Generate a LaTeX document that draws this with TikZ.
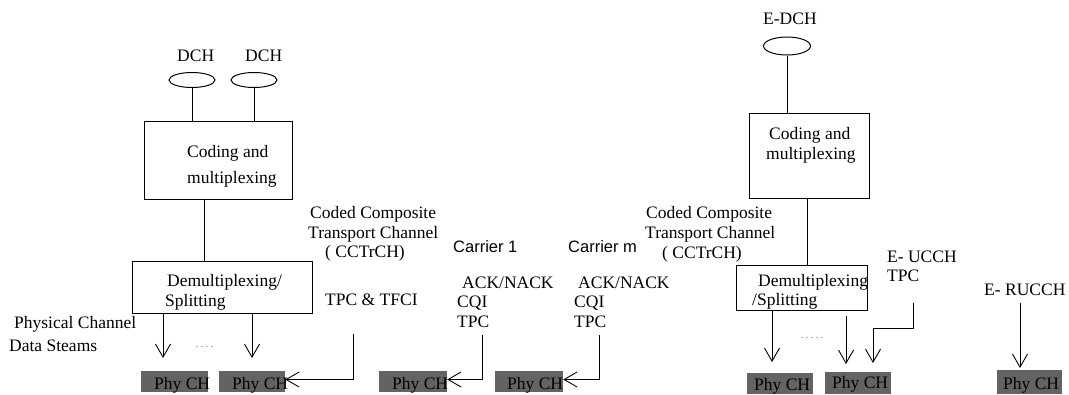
\documentclass[tikz,border=0pt]{standalone}
\usepackage{fontspec}
\setmainfont{Liberation Serif}
\newfontfamily\arialf{Liberation Sans}
\usetikzlibrary{arrows.meta,shapes.geometric}
\definecolor{phygray}{HTML}{636363}
\begin{document}
\begin{tikzpicture}[x=1pt,y=-1pt,
  txt/.style={anchor=base west, inner sep=0pt, font=\fontsize{17.5}{21}\selectfont},
  sans/.style={anchor=base west, inner sep=0pt, font=\arialf\fontsize{16.5}{20}\selectfont},
  box/.style={draw, line width=1pt, inner sep=0pt},
  chan/.style={draw, ellipse, line width=1pt, inner sep=0pt},
  phy/.style={fill=phygray, inner sep=0pt, minimum height=21pt},
  line/.style={line width=0.9pt},
  arr/.style={line width=0.9pt, -{Straight Barb[length=13pt,width=15pt]}},
  dots/.style={anchor=base west, inner sep=0pt, font=\fontsize{8}{9}\selectfont}
]
\useasboundingbox (0,0) rectangle (1069,394);

% ---------- left group ----------
\node[txt] (ldch1) at (177,61) {DCH};
\node[txt] (ldch2) at (245,61) {DCH};
\node[chan, minimum width=46pt, minimum height=15pt] (e1) at (192,80) {};
\node[chan, minimum width=46pt, minimum height=15pt] (e2) at (254,80) {};
\node[box, minimum width=148pt, minimum height=78pt] (cm1) at (218,160) {};
\node[txt] (cm1a) at (187,157) {Coding and};
\node[txt] (cm1b) at (187,183) {multiplexing};
\node[box, minimum width=180pt, minimum height=52pt] (dm1) at (222,287) {};
\node[txt] (dm1a) at (167,286) {Demultiplexing/};
\node[txt] (dm1b) at (165,306) {Splitting};
\node[txt] (pcd1) at (14,328) {Physical Channel};
\node[txt] (pcd2) at (9,351) {Data Steams};
\node[dots] (dl) at (196,347) {.\hspace{3pt}.\hspace{3pt}.\hspace{3pt}.};

\draw[line] (e1.south) -- (e1.south |- cm1.north);
\draw[line] (e2.south) -- (e2.south |- cm1.north);
\draw[line] ([xshift=-14pt]cm1.south) -- ([xshift=-14pt]cm1.south |- dm1.north);
\coordinate (t1) at (163,358);
\coordinate (t2) at (252,358);
\draw[arr] (dm1.south -| t1) -- (t1);
\draw[arr] (dm1.south -| t2) -- (t2);

\node[phy, minimum width=67pt] (p1) at (174.5,381.5) {};
\node[phy, minimum width=66pt] (p2) at (252,381.5) {};
\node[txt] (p1t) at (154,389) {Phy CH};
\node[txt] (p2t) at (232,389) {Phy CH};

% ---------- middle ----------
\node[txt] (cc1a) at (310,218) {Coded Composite};
\node[txt] (cc1b) at (308,238) {Transport Channel};
\node[txt] (cc1c) at (325,257) {( CCTrCH)};
\node[txt] (tfci) at (325,305) {TPC \& TFCI};
\coordinate (s1) at (353,334);
\draw[arr] (s1) |- ([yshift=2pt]p2.east);

\node[sans] (car1) at (453,252) {Carrier 1};
\node[sans] (carm) at (568,252) {Carrier m};
\node[txt] (ack1) at (462,288) {ACK/NACK};
\node[txt] (cqi1) at (457,307) {CQI};
\node[txt] (tpc1) at (457,327) {TPC};
\node[txt] (ack2) at (578,288) {ACK/NACK};
\node[txt] (cqi2) at (574,307) {CQI};
\node[txt] (tpc2) at (574,327) {TPC};

\node[phy, minimum width=68pt] (p3) at (413,381.5) {};
\node[phy, minimum width=68pt] (p4) at (529,381.5) {};
\node[txt] (p3t) at (392,389) {Phy CH};
\node[txt] (p4t) at (507,389) {Phy CH};
\coordinate (s2) at (482,335);
\coordinate (s3) at (599,335);
\draw[arr] (s2) |- ([yshift=2pt]p3.east);
\draw[arr] (s3) |- ([yshift=2pt]p4.east);

% ---------- right group ----------
\node[txt] (edch) at (763,24) {E-DCH};
\node[chan, minimum width=47pt, minimum height=18pt] (e3) at (787,46) {};
\node[box, minimum width=120pt, minimum height=85pt] (cm2) at (809,155.5) {};
\node[txt] (cm2a) at (769,139) {Coding and};
\node[txt] (cm2b) at (766,159) {multiplexing};
\node[box, minimum width=131pt, minimum height=45pt] (dm2) at (801.5,287.5) {};
\node[txt] (dm2a) at (758,286) {Demultiplexing};
\node[txt] (dm2b) at (752,305) {/Splitting};
\node[txt] (cc2a) at (646,218) {Coded Composite};
\node[txt] (cc2b) at (645,238) {Transport Channel};
\node[txt] (cc2c) at (662,258) {( CCTrCH)};
\node[txt] (eucch) at (887,262) {E- UCCH};
\node[txt] (etpc) at (887,281) {TPC};
\node[txt] (erucch) at (984,295) {E- RUCCH};
\node[dots] (dr) at (801,338) {.\hspace{3pt}.\hspace{3pt}.\hspace{3pt}.\hspace{3pt}.};

\draw[line] (e3.south) -- (e3.south |- cm2.north);
\draw[line] ([xshift=-2pt]cm2.south) -- ([xshift=-2pt]cm2.south |- dm2.north);
\coordinate (t3) at (772,362);
\draw[arr] (dm2.south -| t3) -- (t3);
\coordinate (u4) at (846,316);
\coordinate (t4) at (846,364);
\draw[arr] (u4) -- (t4);
\coordinate (s4) at (913,303);
\coordinate (t5) at (873,363);
\draw[arr] (s4) -- ++(0,25) -| (t5);
\coordinate (s5) at (1020,303);
\coordinate (t6) at (1020,368);
\draw[arr] (s5) -- (t6);

\node[phy, minimum width=66pt] (p5) at (780,383.5) {};
\node[phy, minimum width=66pt, minimum height=22pt] (p6) at (858,383) {};
\node[phy, minimum width=65pt, minimum height=24pt] (p7) at (1029.5,382) {};
\node[txt] (p5t) at (754,390) {Phy CH};
\node[txt] (p6t) at (832,388) {Phy CH};
\node[txt] (p7t) at (1003,389) {Phy CH};
\end{tikzpicture}
\end{document}
